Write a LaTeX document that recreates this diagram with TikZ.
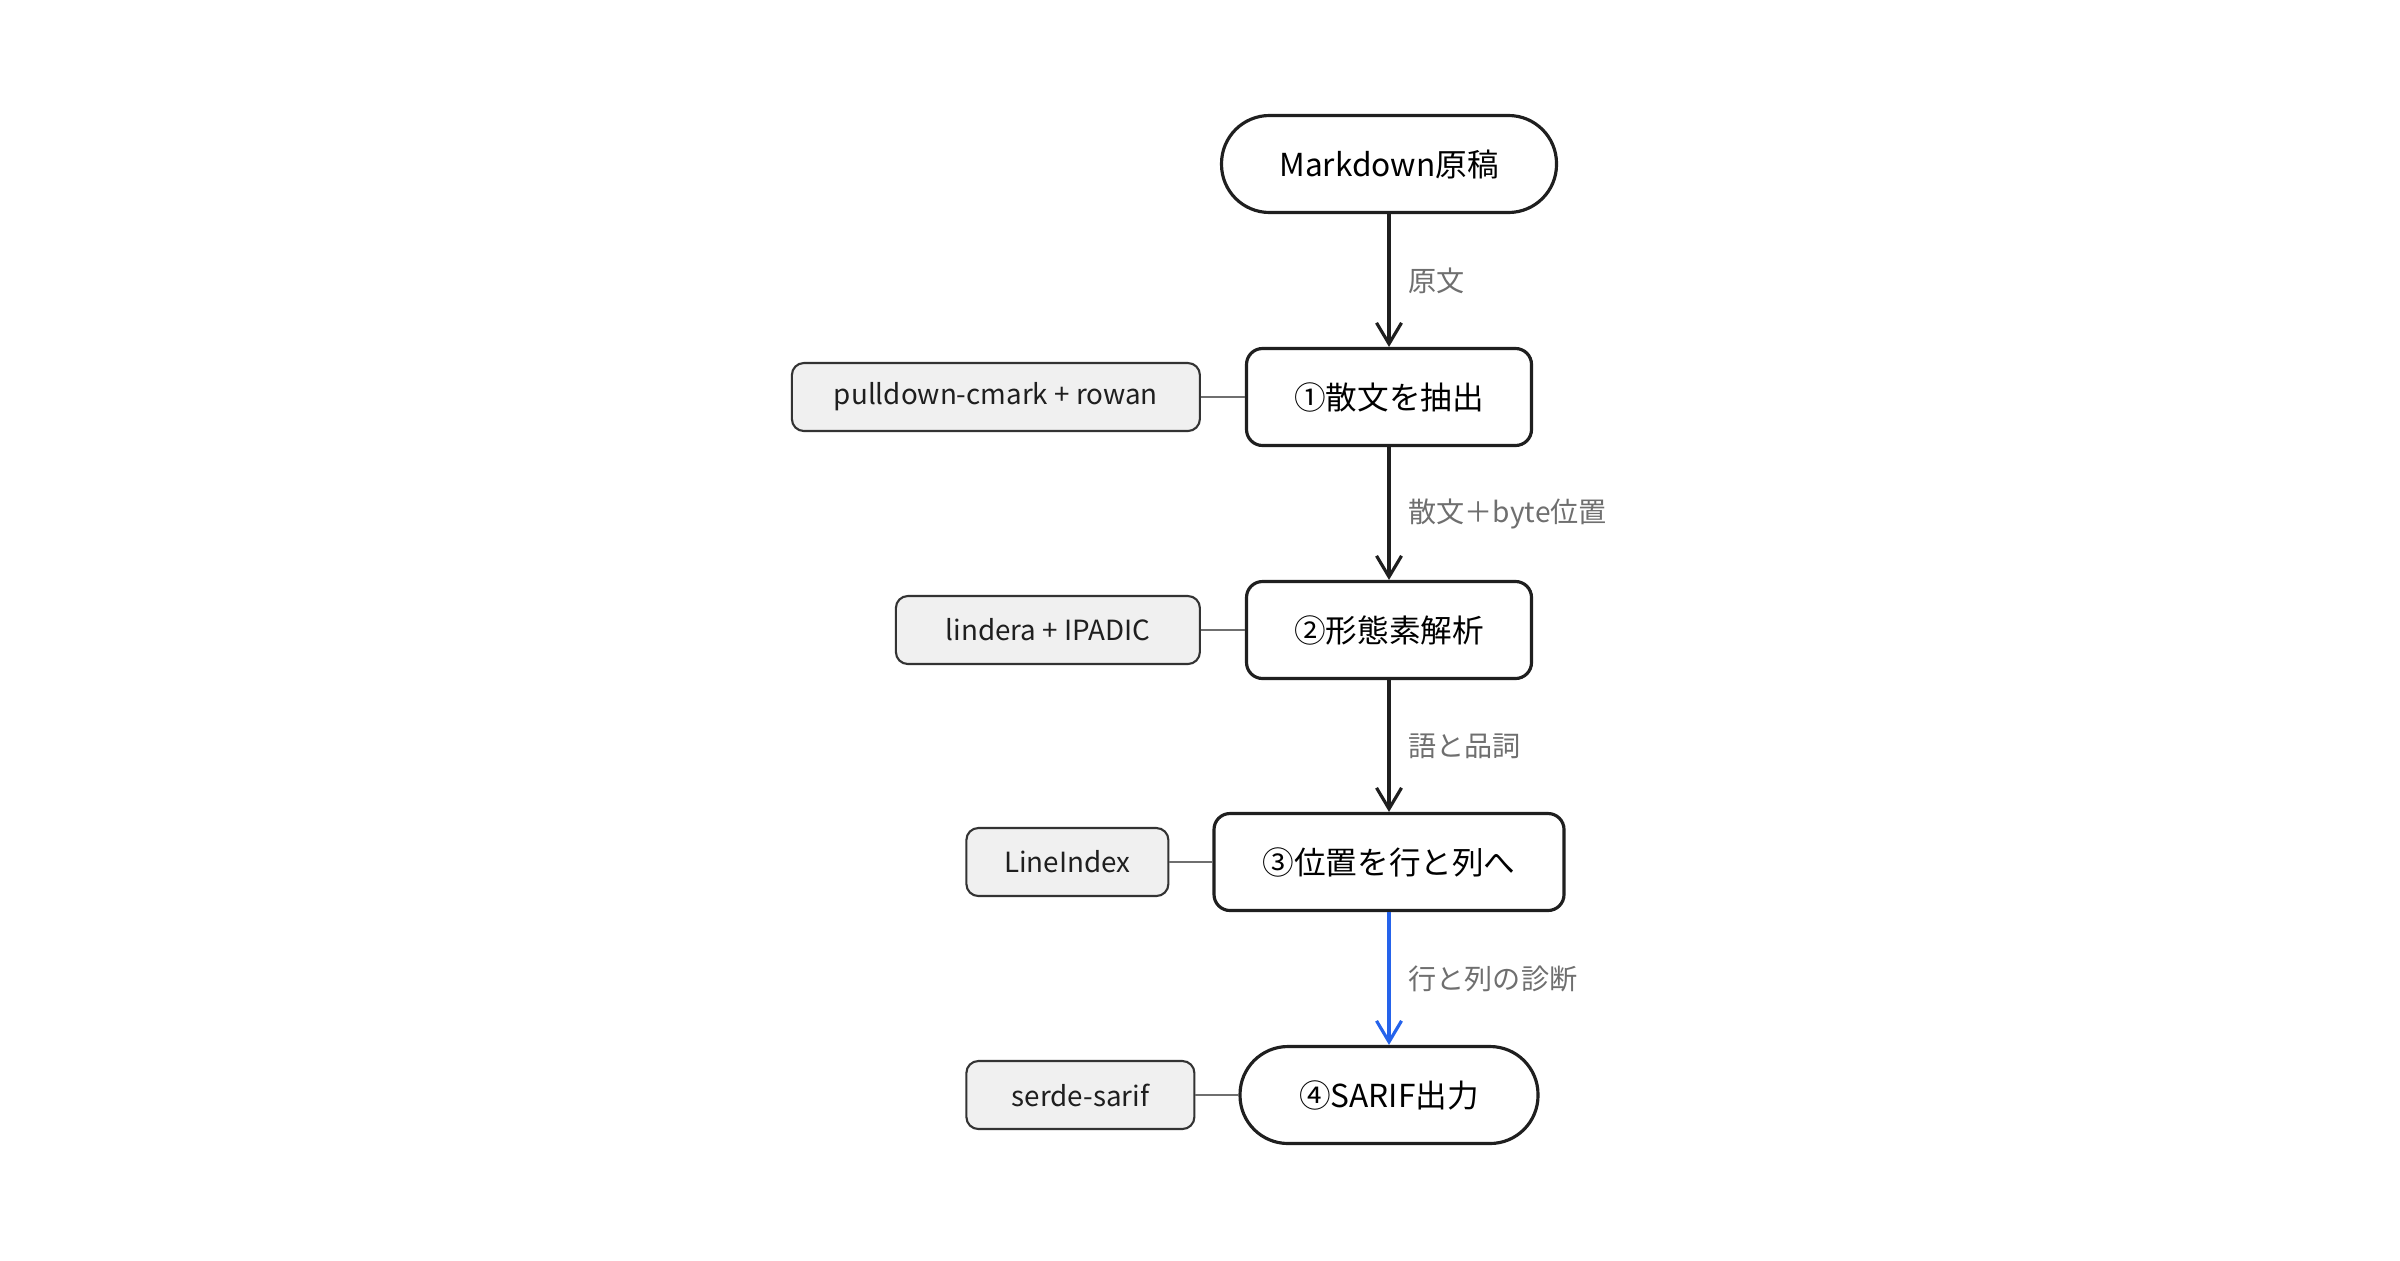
\documentclass[tikz,border=0pt]{standalone}
\usepackage{fontspec}
\setmainfont{Noto Sans CJK JP}
\usetikzlibrary{positioning,arrows.meta}
\definecolor{edgegray}{HTML}{6F6F6F}
\definecolor{flowblue}{HTML}{2563EB}

\begin{document}
\begin{tikzpicture}[
  mainbox/.style={draw=black!88, line width=0.9pt, rounded corners=0.16cm, fill=white, inner sep=0pt, minimum height=0.97cm, font=\fontsize{9}{11}\selectfont},
  termbox/.style={mainbox, rounded corners=0.48cm},
  toolbox/.style={draw=black!80, line width=0.6pt, rounded corners=0.12cm, fill=black!6, inner sep=0pt, minimum height=0.68cm, text=black!88, font=\fontsize{7.9}{10}\selectfont},
  flow/.style={draw=black!88, line width=0.9pt, -{Straight Barb[length=2.1mm,width=2.5mm]}},
  tie/.style={draw=edgegray, line width=0.6pt},
  flowlabel/.style={right=0.18cm, text=edgegray, font=\fontsize{8}{10}\selectfont, inner sep=0pt}
]
\useasboundingbox (0,0) rectangle (24,12.6);
\node[termbox, minimum width=3.35cm] (md) at (13.89,10.96) {Markdown原稿};
\node[mainbox, minimum width=2.85cm] (prose) at (13.89,8.63) {①散文を抽出};
\node[mainbox, minimum width=2.85cm] (morph) at (13.89,6.30) {②形態素解析};
\node[mainbox, minimum width=3.50cm] (lines) at (13.89,3.98) {③位置を行と列へ};
\node[termbox, minimum width=2.98cm] (sarif) at (13.89,1.65) {④SARIF出力};
\node[toolbox, minimum width=4.08cm, left=0.44cm of prose] (pulldown) {pulldown-cmark + rowan};
\node[toolbox, minimum width=3.04cm, left=0.44cm of morph] (lindera) {lindera + IPADIC};
\node[toolbox, minimum width=2.02cm, left=0.43cm of lines] (lineidx) {LineIndex};
\node[toolbox, minimum width=2.28cm, left=0.43cm of sarif] (serde) {serde-sarif};
\draw[flow] (md) -- node[flowlabel] {原文} (prose);
\draw[flow] (prose) -- node[flowlabel] {散文＋byte位置} (morph);
\draw[flow] (morph) -- node[flowlabel] {語と品詞} (lines);
\draw[flow, draw=flowblue] (lines) -- node[flowlabel] {行と列の診断} (sarif);
\draw[tie] (pulldown) -- (prose);
\draw[tie] (lindera) -- (morph);
\draw[tie] (lineidx) -- (lines);
\draw[tie] (serde) -- (sarif);
\end{tikzpicture}
\end{document}
